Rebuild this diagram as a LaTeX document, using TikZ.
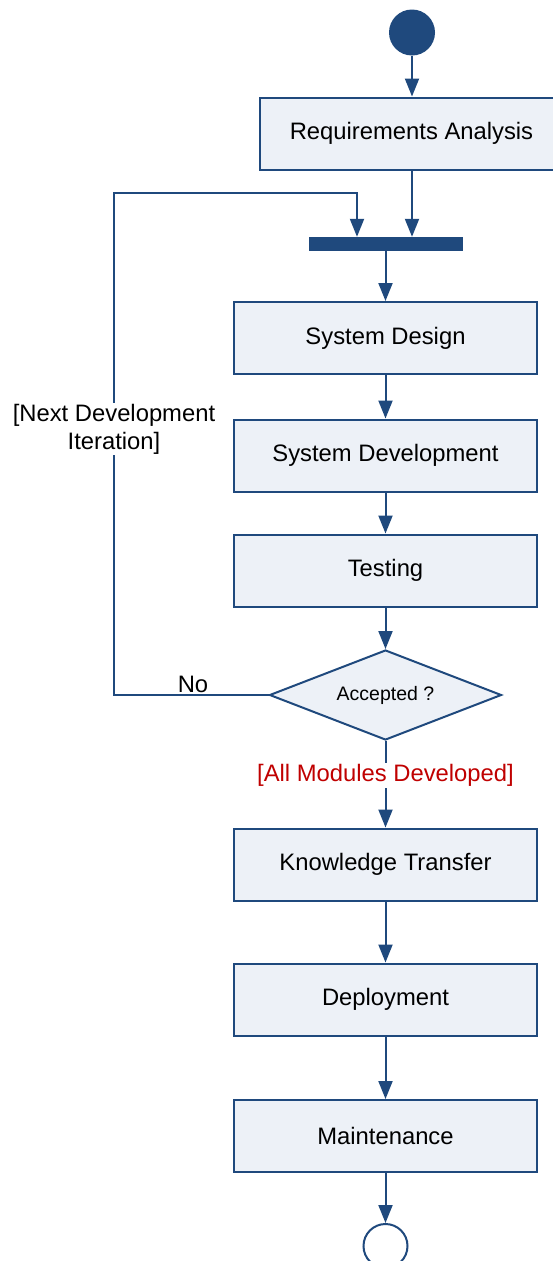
\documentclass[tikz,border=0pt]{standalone}
\usepackage{fontspec}
\setmainfont{Liberation Sans}
\usetikzlibrary{shapes.geometric,arrows.meta}
\definecolor{umlblue}{RGB}{31,73,125}
\definecolor{umlfill}{RGB}{237,241,247}
\definecolor{guardred}{RGB}{192,0,0}
\tikzset{
  act/.style={draw=umlblue, fill=umlfill, line width=2pt, minimum width=303pt,
    minimum height=72pt, inner sep=0pt, font=\fontsize{23.8}{28}\selectfont},
  flow/.style={draw=umlblue, line width=2pt, -{Triangle[length=18pt,width=14pt]}},
  lbl/.style={font=\fontsize{23.8}{28}\selectfont, inner sep=1pt, align=center},
}
\begin{document}
\begin{tikzpicture}[x=1pt,y=-1pt]
\useasboundingbox (0,0) rectangle (552,1261);

% initial and final states
\node[circle, fill=umlblue, minimum size=46pt, inner sep=0pt] (start) at (412,32.5) {};
\node[circle, draw=umlblue, fill=white, line width=2pt, minimum size=44pt, inner sep=0pt] (stop) at (385.5,1246) {};

% activities
\node[act] (req) at (411.5,133.5) {Requirements Analysis};
\node[fill=umlblue, minimum width=154pt, minimum height=14pt, inner sep=0pt] (bar) at (385.5,244) {};
\node[act] (design) at (385.5,338) {System Design};
\node[act] (dev) at (385.5,455.5) {System Development};
\node[act] (test) at (385.5,570.5) {Testing};
\node[diamond, draw=umlblue, fill=umlfill, line width=2pt, minimum width=232pt,
  minimum height=90pt, inner sep=0pt, aspect=2.55,
  font=\fontsize{19.5}{23}\selectfont] (dec) at (385.5,695) {Accepted ?};
\node[act] (kt) at (385.5,864.5) {Knowledge Transfer};
\node[act] (deploy) at (385.5,999.5) {Deployment};
\node[act] (maint) at (385.5,1136) {Maintenance};

% loop-back corners
\coordinate (loopL) at (114,193);
\coordinate (loopR) at (357,193);

% control flows
\draw[flow] (start) -- (start |- req.north);
\draw[flow] (req.south -| start) -- (start |- bar.north);
\draw[flow] (bar.south) -- (design.north);
\draw[flow] (design) -- (dev);
\draw[flow] (dev) -- (test);
\draw[flow] (test) -- (dec.north);
\draw[flow] (dec.west) -| (loopL) -- (loopR) -- (loopR |- bar.north);
\draw[flow] (dec.south) -- (kt.north);
\draw[flow] (kt) -- (deploy);
\draw[flow] (deploy) -- (maint);
\draw[flow] (maint) -- (stop);

% guards
\node[lbl, fill=white] (iter) at (114,429) {[Next Development\\Iteration]};
\node[lbl] (no) at (193,684) {No};
\node[lbl, fill=white, text=guardred] (all) at (385.5,775.5) {[All Modules Developed]};
\end{tikzpicture}
\end{document}
